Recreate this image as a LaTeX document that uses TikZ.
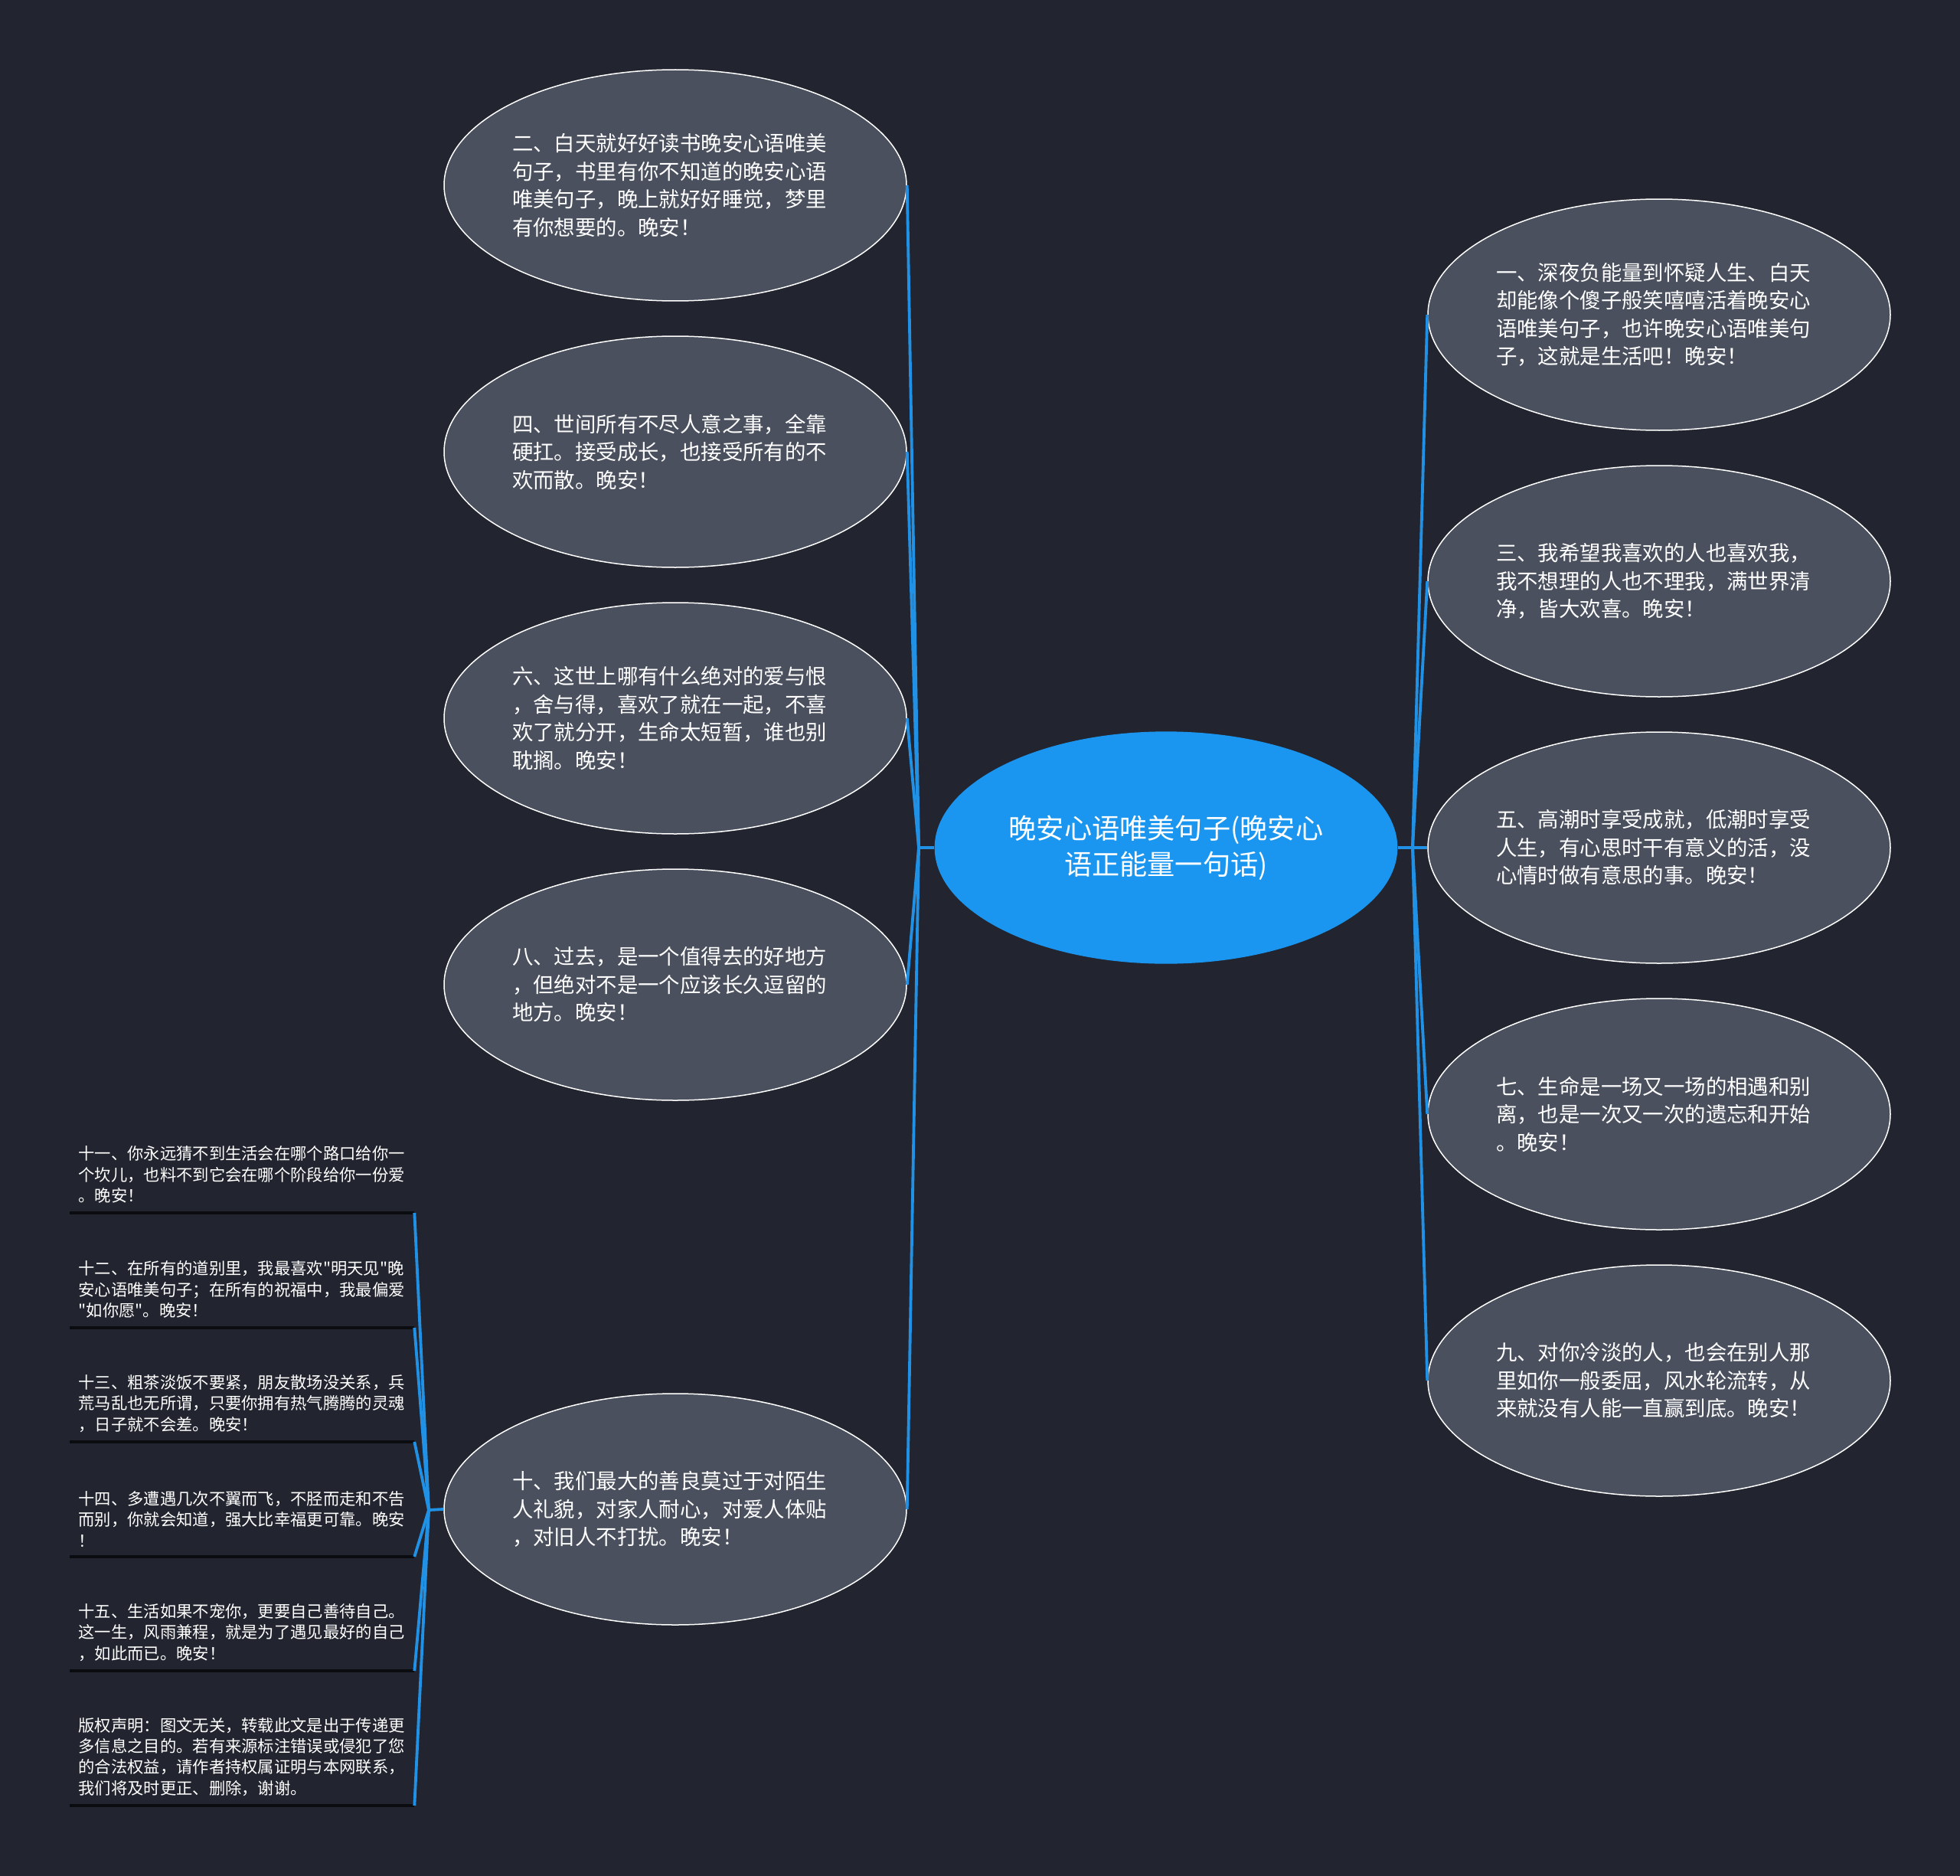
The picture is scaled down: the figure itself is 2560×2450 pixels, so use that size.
\documentclass[tikz,border=0pt]{standalone}
\usepackage{fontspec}
\setmainfont{Noto Sans CJK SC}
\usetikzlibrary{shapes.geometric}
\definecolor{bg}{HTML}{22252F}
\definecolor{nodefill}{HTML}{4A505E}
\definecolor{mainblue}{HTML}{1A96F0}
\definecolor{linkblue}{HTML}{2191E6}
\definecolor{uline}{HTML}{0B0C0F}
\begin{document}
\begin{tikzpicture}[x=0.3pt,y=-0.3pt,
  bubble/.style={ellipse, draw=white, line width=0.45pt, fill=nodefill,
    minimum width=181.2pt, minimum height=90.6pt, inner sep=0pt,
    text=white, align=left, text width=127.8pt,
    font=\fontsize{8.22}{10.95}\selectfont},
  root/.style={ellipse, fill=mainblue, minimum width=181.4pt, minimum height=91pt,
    inner sep=0pt, text=white, align=center,
    font=\fontsize{10.86}{14.1}\selectfont},
  leaf/.style={anchor=south west, inner xsep=3.3pt, inner ysep=3.6pt,
    text width=128.1pt, align=left, text=white,
    font=\fontsize{6.39}{8.2}\selectfont},
  underl/.style={draw=uline, line width=1.2pt},
  link/.style={draw=linkblue, line width=1.15pt},
]
\fill[bg] (0,0) rectangle (2560,2450);

% root
\node[root] (C) at (1523,1107) {晚安心语唯美句子(晚安心\\语正能量一句话)};

% left bubbles
\node[bubble] (L2) at (882,242) {二、白天就好好读书晚安心语唯美\\句子，书里有你不知道的晚安心语\\唯美句子，晚上就好好睡觉，梦里\\有你想要的。晚安！};
\node[bubble] (L4) at (882,590) {四、世间所有不尽人意之事，全靠\\硬扛。接受成长，也接受所有的不\\欢而散。晚安！};
\node[bubble] (L6) at (882,938) {六、这世上哪有什么绝对的爱与恨\\，舍与得，喜欢了就在一起，不喜\\欢了就分开，生命太短暂，谁也别\\耽搁。晚安！};
\node[bubble] (L8) at (882,1286) {八、过去，是一个值得去的好地方\\，但绝对不是一个应该长久逗留的\\地方。晚安！};
\node[bubble] (L10) at (882,1971) {十、我们最大的善良莫过于对陌生\\人礼貌，对家人耐心，对爱人体贴\\，对旧人不打扰。晚安！};

% right bubbles
\node[bubble] (R1) at (2167,411) {一、深夜负能量到怀疑人生、白天\\却能像个傻子般笑嘻嘻活着晚安心\\语唯美句子，也许晚安心语唯美句\\子，这就是生活吧！晚安！};
\node[bubble] (R3) at (2167,759) {三、我希望我喜欢的人也喜欢我，\\我不想理的人也不理我，满世界清\\净，皆大欢喜。晚安！};
\node[bubble] (R5) at (2167,1107) {五、高潮时享受成就，低潮时享受\\人生，有心思时干有意义的活，没\\心情时做有意思的事。晚安！};
\node[bubble] (R7) at (2167,1455) {七、生命是一场又一场的相遇和别\\离，也是一次又一次的遗忘和开始\\。晚安！};
\node[bubble] (R9) at (2167,1803) {九、对你冷淡的人，也会在别人那\\里如你一般委屈，风水轮流转，从\\来就没有人能一直赢到底。晚安！};

% leaves of 十
\node[leaf] (K1) at (91,1584) {十一、你永远猜不到生活会在哪个路口给你一\\个坎儿，也料不到它会在哪个阶段给你一份爱\\。晚安！};
\node[leaf] (K2) at (91,1734) {十二、在所有的道别里，我最喜欢\textquotedbl 明天见\textquotedbl 晚\\安心语唯美句子；在所有的祝福中，我最偏爱\\\textquotedbl 如你愿\textquotedbl 。晚安！};
\node[leaf] (K3) at (91,1883) {十三、粗茶淡饭不要紧，朋友散场没关系，兵\\荒马乱也无所谓，只要你拥有热气腾腾的灵魂\\，日子就不会差。晚安！};
\node[leaf] (K4) at (91,2033) {十四、多遭遇几次不翼而飞，不胫而走和不告\\而别，你就会知道，强大比幸福更可靠。晚安\\！};
\node[leaf] (K5) at (91,2182) {十五、生活如果不宠你，更要自己善待自己。\\这一生，风雨兼程，就是为了遇见最好的自己\\，如此而已。晚安！};
\node[leaf] (K6) at (91,2358) {版权声明：图文无关，转载此文是出于传递更\\多信息之目的。若有来源标注错误或侵犯了您\\的合法权益，请作者持权属证明与本网联系，\\我们将及时更正、删除，谢谢。};

\foreach \k in {K1,K2,K3,K4,K5,K6}
  \draw[underl] (\k.south west) -- (\k.south east);

% junctions
\coordinate (JL) at (1200,1107);
\coordinate (JR) at (1845,1107);
\coordinate (J10) at (560,1972);

% connectors
\draw[link] (C.west) -- (JL);
\foreach \n in {L2,L4,L6,L8,L10}
  \draw[link] (JL) -- (\n.east);
\draw[link] (C.east) -- (JR);
\foreach \n in {R1,R3,R5,R7,R9}
  \draw[link] (JR) -- (\n.west);
\draw[link] (L10.west) -- (J10);
\foreach \k in {K1,K2,K3,K4,K5,K6}
  \draw[link] (J10) -- (\k.south east);
\end{tikzpicture}
\end{document}
